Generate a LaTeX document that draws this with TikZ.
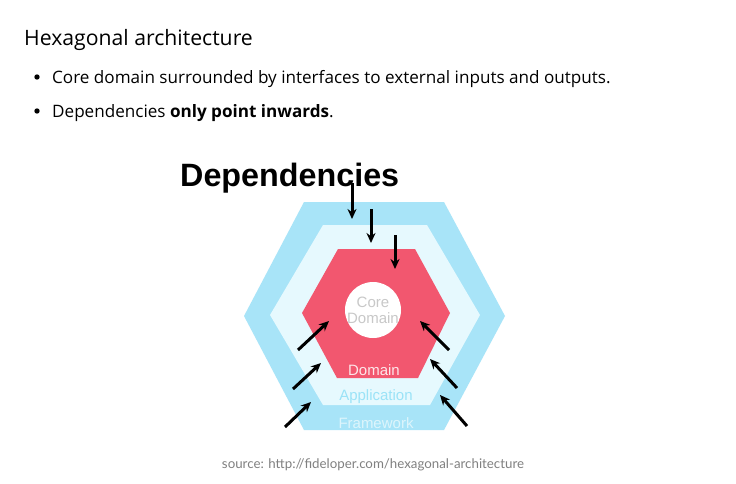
\documentclass[tikz,border=0pt]{standalone}
\usepackage{fontspec}
\setmainfont{Open Sans}
\newfontfamily\diagfont{Liberation Sans}
\newfontfamily\notefont{Lato}
\usetikzlibrary{arrows.meta}
\definecolor{frameblue}{HTML}{A8E4F8}
\definecolor{appblue}{HTML}{E6F9FE}
\definecolor{domainred}{HTML}{F2576F}
\definecolor{applabel}{HTML}{9BE3F7}
\definecolor{framelabel}{HTML}{DDF5FC}
\definecolor{corelabel}{HTML}{C8C8C8}
\definecolor{notegray}{HTML}{808080}
\tikzset{
  px/.style={x=1pt,y=-1pt},
  heading/.style={anchor=base west,inner sep=0pt,font=\fontsize{21.2}{24}\selectfont},
  bullettext/.style={anchor=base west,inner sep=0pt,font=\fontsize{17.1}{20}\selectfont},
  layerlabel/.style={inner sep=0pt,font=\diagfont\fontsize{15}{17}\selectfont},
  dep/.style={-{Stealth[length=10pt,width=9pt]},line width=3pt,black}
}
\begin{document}
\begin{tikzpicture}[px]
\useasboundingbox[fill=white] (0,0) rectangle (736,483);

% title and bullet list
\node[heading] (title) at (24,45) {Hexagonal architecture};
\fill (37,77) circle (2.7) coordinate (b1);
\node[bullettext] (item1) at (52,83) {Core domain surrounded by interfaces to external inputs and outputs.};
\fill (37,111) circle (2.7) coordinate (b2);
\node[bullettext] (item2) at (52,117) {Dependencies \textbf{only point inwards}.};

% nested layers
\fill[frameblue] (244,316) -- (304,202) -- (444,202) -- (505,316) -- (444,430) -- (304,430) -- cycle;
\fill[appblue] (270,315) -- (323,225) -- (427,225) -- (480,315) -- (430,405) -- (323,405) -- cycle;
\fill[domainred] (302,313) -- (338,249) -- (415,249) -- (450,313) -- (418,378) -- (337,378) -- cycle;
\fill[white] (373,310) circle (28);

\node[layerlabel,text=corelabel,align=center] (core) at (373,310) {Core\\[-1pt]Domain};
\node[layerlabel,text=white!85!domainred] (domain) at (374,370) {Domain};
\node[layerlabel,text=applabel] (application) at (376,397) {Application};
\node[layerlabel,text=framelabel] (framework) at (376,423) {Framework};

\node[anchor=base west,inner sep=0pt,font=\diagfont\bfseries\fontsize{32.3}{36}\selectfont] (deps) at (180,186) {Dependencies};

% dependency arrows, all pointing inwards
\coordinate (t1s) at (352,183); \coordinate (t1e) at (352,219);
\coordinate (t2s) at (371,209); \coordinate (t2e) at (371,243);
\coordinate (t3s) at (395,235); \coordinate (t3e) at (395,269);
\coordinate (l1s) at (298,350); \coordinate (l1e) at (329,321);
\coordinate (l2s) at (293,389); \coordinate (l2e) at (321,363);
\coordinate (l3s) at (285,427); \coordinate (l3e) at (311,402);
\coordinate (r1s) at (449,350); \coordinate (r1e) at (420,321);
\coordinate (r2s) at (457,388); \coordinate (r2e) at (430,359);
\coordinate (r3s) at (467,426); \coordinate (r3e) at (440,395);
\foreach \a in {t1,t2,t3,l1,l2,l3,r1,r2,r3}
  \draw[dep] (\a s) -- (\a e);

% attribution
\node[anchor=base,inner sep=0pt,text=notegray,font=\notefont\fontsize{13.3}{15}\selectfont] (source) at (373,468) {source: http://fideloper.com/hexagonal-architecture};
\end{tikzpicture}
\end{document}
